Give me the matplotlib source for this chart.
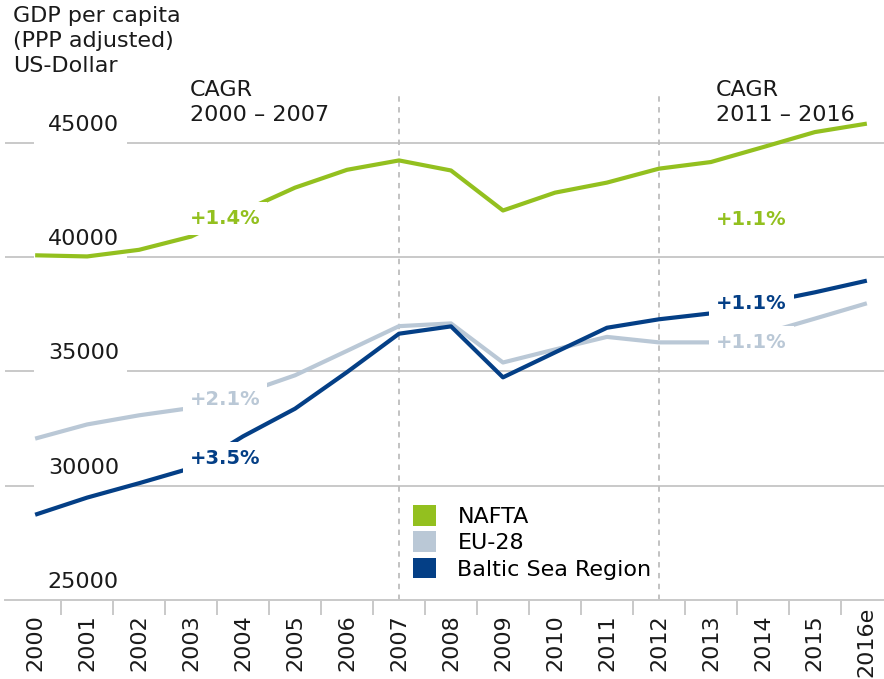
import matplotlib
matplotlib.use("Agg")
import matplotlib.pyplot as plt
from matplotlib.patches import Patch
from matplotlib import transforms

years = list(range(2000, 2017))
year_labels = [str(y) for y in years[:-1]] + ["2016e"]

nafta = [40080, 40030, 40320, 40900, 42010, 43040, 43820, 44230, 43790,
         42040, 42820, 43260, 43870, 44160, 44810, 45470, 45840]
eu28 = [32060, 32680, 33080, 33400, 34040, 34830, 35900, 36980, 37100,
        35390, 35960, 36510, 36270, 36270, 36650, 37310, 37980]
baltic = [28730, 29480, 30110, 30770, 32160, 33370, 34970, 36650, 36970,
          34740, 35830, 36910, 37280, 37540, 38000, 38460, 38970]

series_names = ["NAFTA", "EU-28", "Baltic Sea Region"]
y_ticks = [30000, 35000, 40000, 45000]
cagr_periods = ["CAGR\n2000 – 2007", "CAGR\n2011 – 2016"]
cagr_early = ["+1.4%", "+2.1%", "+3.5%"]
cagr_late = ["+1.1%", "+1.1%", "+1.1%"]

GREEN = "#93C01F"
LIGHT = "#BAC8D6"
DARK = "#043F86"
GRID = "#C9C9C9"
TEXT = "#1a1a1a"

plt.rcParams["font.family"] = ["DejaVu Sans"]

W, H = 884, 679
fig = plt.figure(figsize=(W / 100, H / 100), dpi=100)
ax = fig.add_axes([5 / W, 79 / H, 879 / W, 507 / H])
ax.set_xlim(1999.42, 2016.33)
ax.set_ylim(25000, 47180)

# gridlines with a gap where the value labels sit
gap_lo, gap_hi = (33 - 5) / 879, (128 - 5) / 879
for v in y_ticks:
    ax.axhline(v, xmin=0, xmax=gap_lo, color=GRID, lw=1.4, zorder=1)
    ax.axhline(v, xmin=gap_hi, xmax=1, color=GRID, lw=1.4, zorder=1)

lab_tr = transforms.offset_copy(
    transforms.blended_transform_factory(ax.transAxes, ax.transData),
    fig=fig, x=0, y=12, units="dots")
for v in [25000] + y_ticks:
    ax.text((119 - 5) / 879, v, str(v), transform=lab_tr, ha="right",
            va="baseline", fontsize=16, color=TEXT)

for yr in (2007, 2012):
    ax.axvline(yr, color="#BDBDBD", lw=1.3, ls=(0, (3, 3)), zorder=1)

ax.plot(years, nafta, color=GREEN, lw=3, zorder=3, solid_capstyle="butt")
ax.plot(years, eu28, color=LIGHT, lw=3, zorder=3, solid_capstyle="butt")
ax.plot(years, baltic, color=DARK, lw=3, zorder=3, solid_capstyle="butt")

colors = [GREEN, LIGHT, DARK]
early_y = [41700, 33780, 31180]
late_y = [41650, 36270, 37980]
box = dict(facecolor="white", edgecolor="none", boxstyle="square,pad=0.35")
for txt, yv, c in zip(cagr_early, early_y, colors):
    ax.text(2002.98, yv, txt, color=c, fontsize=14, fontweight="bold",
            ha="left", va="center", zorder=4, bbox=box)
for txt, yv, c in zip(cagr_late, late_y, colors):
    ax.text(2013.1, yv, txt, color=c, fontsize=14, fontweight="bold",
            ha="left", va="center", zorder=4, bbox=box)

# x axis
for side in ("top", "left", "right"):
    ax.spines[side].set_visible(False)
ax.spines["bottom"].set_color(GRID)
ax.spines["bottom"].set_linewidth(1.4)
ax.set_yticks([])
ax.set_xticks(years)
ax.set_xticklabels(year_labels, rotation=90, fontsize=16, color=TEXT)
for lbl in ax.get_xticklabels():
    lbl.set_verticalalignment("center")
ax.tick_params(axis="x", which="major", length=0, pad=30.5)
ax.set_xticks([y + 0.5 for y in years[:-1]], minor=True)
ax.tick_params(axis="x", which="minor", length=10.8, width=1.4, color=GRID)

handles = [Patch(facecolor=c, edgecolor="none") for c in colors]
ax.legend(handles, series_names, loc="upper left",
          bbox_to_anchor=((413 - 5) / 879, (600 - 505) / 507),
          frameon=False, fontsize=16, borderpad=0, borderaxespad=0,
          handlelength=1.05, handleheight=1.05, handletextpad=0.95,
          labelspacing=0.2)

head = dict(ha="left", va="top", fontsize=16, color=TEXT, linespacing=1.3)
fig.text(13 / W, 1 - 6 / H, "GDP per capita\n(PPP adjusted)\nUS-Dollar", **head)
fig.text(190 / W, 1 - 80 / H, cagr_periods[0], **head)
fig.text(716 / W, 1 - 80 / H, cagr_periods[1], **head)

fig.savefig("out.png", dpi=100)
